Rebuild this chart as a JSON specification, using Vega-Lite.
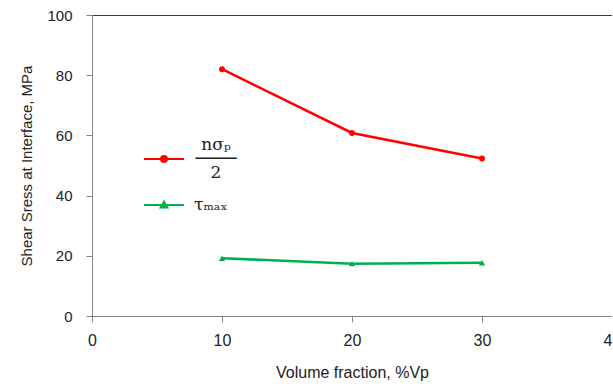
{
  "$schema": "https://vega.github.io/schema/vega-lite/v6.json",
  "width": 520,
  "height": 301,
  "autosize": {"type": "none"},
  "padding": {"left": 92, "top": 15, "right": 0, "bottom": 73},
  "background": "white",
  "config": {
    "view": {"stroke": "#404040", "strokeWidth": 1},
    "font": "Liberation Sans",
    "axis": {"domainColor": "#868686", "tickColor": "#868686", "labelColor": "#222222", "titleColor": "#222222", "grid": false, "titleFontWeight": "normal", "labelFont": "Liberation Sans", "titleFont": "Liberation Sans"}
  },
  "data": {
    "values": [
      {"vf": 10, "stress": 82.0, "series": "sigma"},
      {"vf": 20, "stress": 60.8, "series": "sigma"},
      {"vf": 30, "stress": 52.3, "series": "sigma"},
      {"vf": 10, "stress": 19.2, "series": "tau"},
      {"vf": 20, "stress": 17.4, "series": "tau"},
      {"vf": 30, "stress": 17.7, "series": "tau"}
    ]
  },
  "encoding": {
    "x": {
      "field": "vf", "type": "quantitative",
      "scale": {"domain": [0, 40], "nice": false},
      "axis": {"values": [0, 10, 20, 30, 40], "title": "Volume fraction, %Vp", "tickSize": 6, "labelPadding": 10, "labelFontSize": 16, "titleFontSize": 16, "titlePadding": 16, "labelFlush": false, "labelOverlap": false}
    },
    "y": {
      "field": "stress", "type": "quantitative",
      "scale": {"domain": [0, 100], "nice": false},
      "axis": {"values": [0, 20, 40, 60, 80, 100], "title": "Shear Sress at Interface, MPa", "tickSize": 6, "labelPadding": 14, "labelFontSize": 15, "titleFontSize": 15, "titlePadding": 12}
    },
    "color": {
      "field": "series", "type": "nominal",
      "scale": {"domain": ["sigma", "tau"], "range": ["#ff0000", "#00b050"]},
      "legend": {
        "orient": "none", "legendX": 61, "legendY": 133, "title": null,
        "labelExpr": "datum.value == 'sigma' ? ['nσₚ', '────', '2'] : 'τₘₐₓ'",
        "labelFont": "DejaVu Serif", "labelFontSize": 17, "labelColor": "#222222",
        "symbolSize": 400, "symbolStrokeWidth": 2, "labelOffset": 19, "rowPadding": 13,
        "symbolType": "M-2,0H2M-0.3,0A0.3,0.3 0 1,0 0.3,0A0.3,0.3 0 1,0 -0.3,0Z",
        "encode": {
          "labels": {"update": {
            "lineHeight": {"value": 14},
            "dy": {"signal": "datum.value == 'sigma' ? -14 : 0"},
            "align": {"signal": "datum.value == 'sigma' ? 'center' : 'left'"},
            "dx": {"signal": "datum.value == 'sigma' ? 22 : 0"}
          }},
          "symbols": {"update": {
            "shape": {"signal": "datum.value == 'sigma' ? 'M-2,0H2M-0.3,0A0.3,0.3 0 1,0 0.3,0A0.3,0.3 0 1,0 -0.3,0Z' : 'M-2,0H2M0,-0.32L0.34,0.24L-0.34,0.24Z'"},
            "fill": {"signal": "datum.value == 'sigma' ? '#ff0000' : '#00b050'"},
            "stroke": {"signal": "datum.value == 'sigma' ? '#ff0000' : '#00b050'"},
            "opacity": {"value": 1}
          }}
        }
      }
    }
  },
  "layer": [
    {"mark": {"type": "line", "strokeWidth": 2.5}},
    {
      "transform": [{"filter": "datum.series == 'sigma'"}],
      "mark": {"type": "point", "filled": true, "opacity": 1, "size": 35, "shape": "circle"}
    },
    {
      "transform": [{"filter": "datum.series == 'tau'"}],
      "mark": {"type": "point", "filled": true, "opacity": 1, "size": 40, "shape": "triangle-up"}
    }
  ]
}
